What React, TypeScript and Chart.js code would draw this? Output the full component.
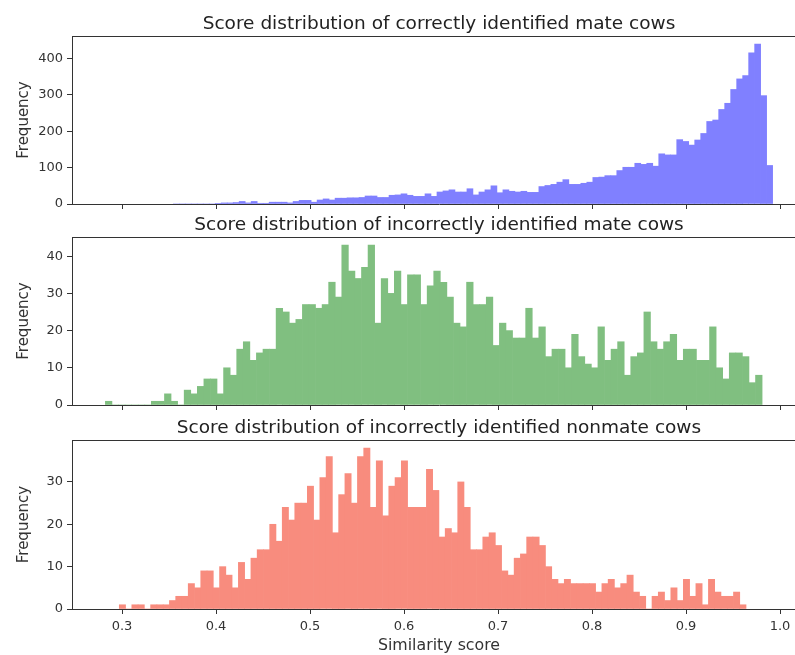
import React, { useEffect, useRef } from "react";
import { Chart, registerables } from "chart.js";

Chart.register(...registerables);

const FONT = "'DejaVu Sans', sans-serif";

// shared x axis
const xTicks = [0.3, 0.4, 0.5, 0.6, 0.7, 0.8, 0.9, 1.0];
const xMin = 0.2468;
const xMax = 1.0276;
const xLabel = "Similarity score";
const yLabel = "Frequency";

// panel 1: correctly identified mate cows (100 bins)
const correctMateTitle = "Score distribution of correctly identified mate cows";
const correctMateRange = [0.3545, 0.9921];
const correctMateCounts = [
  0, 0, 0, 0, 0, 0, 0, 1, 3, 3,
  4, 7, 3, 7, 2, 2, 5, 5, 5, 3,
  7, 10, 10, 5, 11, 14, 11, 16, 16, 17,
  17, 18, 22, 22, 18, 18, 24, 25, 28, 24,
  21, 21, 28, 21, 33, 36, 39, 33, 33, 42,
  25, 33, 39, 50, 31, 39, 35, 33, 35, 32,
  32, 48, 51, 54, 60, 67, 54, 54, 57, 60,
  73, 74, 78, 78, 92, 101, 101, 112, 109, 112,
  104, 138, 135, 135, 177, 172, 162, 176, 194, 227,
  231, 260, 277, 315, 344, 353, 416, 440, 298, 106,
];
const correctMateYTicks = [0, 100, 200, 300, 400];

// panel 2: incorrectly identified mate cows (100 bins)
const incorrectMateTitle = "Score distribution of incorrectly identified mate cows";
const incorrectMateRange = [0.2823, 0.9809];
const incorrectMateCounts = [
  1, 0, 0, 0, 0, 0, 0, 1, 1, 3,
  1, 0, 4, 3, 5, 7, 7, 3, 10, 8,
  15, 17, 12, 14, 15, 15, 26, 25, 22, 23,
  27, 27, 26, 27, 33, 29, 43, 36, 34, 37,
  43, 22, 34, 30, 36, 27, 35, 35, 27, 32,
  36, 33, 29, 22, 21, 33, 27, 27, 29, 16,
  22, 20, 18, 18, 26, 18, 21, 13, 15, 15,
  10, 19, 13, 11, 10, 21, 12, 15, 17, 8,
  13, 14, 25, 17, 15, 17, 19, 12, 15, 15,
  12, 12, 21, 10, 7, 14, 14, 13, 6, 8,
];
const incorrectMateYTicks = [0, 10, 20, 30, 40];

// panel 3: incorrectly identified nonmate cows (100 bins)
const incorrectNonmateTitle = "Score distribution of incorrectly identified nonmate cows";
const incorrectNonmateRange = [0.2971, 0.9638];
const incorrectNonmateCounts = [
  1, 0, 1, 1, 0, 1, 1, 1, 2, 3,
  3, 6, 5, 9, 9, 5, 10, 8, 5, 11,
  7, 12, 14, 14, 20, 16, 24, 21, 25, 25,
  29, 21, 31, 36, 18, 27, 32, 25, 36, 38,
  24, 35, 22, 29, 31, 35, 24, 24, 24, 33,
  28, 17, 19, 18, 30, 24, 14, 14, 17, 18,
  15, 9, 8, 12, 13, 17, 17, 15, 10, 7,
  6, 7, 6, 6, 6, 6, 4, 6, 7, 5,
  6, 8, 4, 3, 0, 3, 4, 2, 5, 2,
  7, 3, 6, 1, 7, 4, 3, 3, 4, 1,
];
const incorrectNonmateYTicks = [0, 10, 20, 30];

const topSpine = {
  id: "topSpine",
  afterDraw(chart: any) {
    const { ctx, chartArea } = chart;
    ctx.save();
    ctx.strokeStyle = "#333";
    ctx.lineWidth = 1;
    ctx.beginPath();
    ctx.moveTo(chartArea.left, Math.round(chartArea.top) + 0.5);
    ctx.lineTo(chartArea.right, Math.round(chartArea.top) + 0.5);
    ctx.stroke();
    ctx.restore();
  },
};

type PanelProps = {
  top: number;
  height: number;
  xAxisHeight: number;
  title: string;
  range: number[];
  counts: number[];
  yTicks: number[];
  color: string;
  showXLabels: boolean;
};

function Panel(p: PanelProps) {
  const ref = useRef<HTMLCanvasElement>(null);
  useEffect(() => {
    const n = p.counts.length;
    const w = (p.range[1] - p.range[0]) / n;
    const data = p.counts.map((c, i) => ({ x: p.range[0] + (i + 0.5) * w, y: c }));
    const chart = new Chart(ref.current as HTMLCanvasElement, {
      type: "bar",
      data: {
        datasets: [
          {
            data: data as any,
            backgroundColor: p.color,
            borderWidth: 0,
            barPercentage: 1,
            categoryPercentage: 1,
          },
        ],
      },
      options: {
        responsive: false,
        animation: false,
        events: [],
        layout: { padding: { left: 0, top: 0, bottom: 0, right: 24 } },
        plugins: {
          legend: { display: false },
          tooltip: { enabled: false },
          title: {
            display: true,
            text: p.title,
            fullSize: false,
            color: "#222",
            font: { family: FONT, size: 18.5, weight: "normal", lineHeight: 1.2 },
            padding: { top: 12.7, bottom: 1.1 },
          },
        },
        scales: {
          x: {
            type: "linear",
            min: xMin,
            max: xMax,
            offset: false,
            afterBuildTicks: (s: any) => {
              s.ticks = xTicks.map((v) => ({ value: v }));
            },
            afterFit: (s: any) => {
              s.height = p.xAxisHeight;
              s.paddingLeft = 0;
              s.paddingRight = 0;
            },
            grid: {
              display: true,
              drawOnChartArea: false,
              drawTicks: true,
              tickLength: 5,
              tickColor: "#333",
              offset: false,
            },
            border: { display: true, color: "#333", width: 1, z: 1 },
            ticks: {
              display: p.showXLabels,
              padding: 4.5,
              color: "#333",
              font: { family: FONT, size: 13 },
              maxRotation: 0,
              autoSkip: false,
              callback: (v: any) => Number(v).toFixed(1),
            },
            title: {
              display: p.showXLabels,
              text: xLabel,
              color: "#333",
              font: { family: FONT, size: 15.8 },
              padding: { top: 0, bottom: 0 },
            },
          },
          y: {
            type: "linear",
            min: 0,
            max: Math.max(...p.counts) * 1.05,
            afterBuildTicks: (s: any) => {
              s.ticks = p.yTicks.map((v) => ({ value: v }));
            },
            afterFit: (s: any) => {
              s.width = 72;
              s.paddingTop = 0;
              s.paddingBottom = 0;
            },
            grid: {
              display: true,
              drawOnChartArea: false,
              drawTicks: true,
              tickLength: 5,
              tickColor: "#333",
            },
            border: { display: true, color: "#333", width: 1, z: 1 },
            ticks: {
              padding: 4,
              color: "#333",
              font: { family: FONT, size: 13 },
              callback: (v: any) => String(v),
            },
            title: {
              display: true,
              text: yLabel,
              color: "#333",
              font: { family: FONT, size: 15 },
              padding: { top: 15.5, bottom: 0 },
            },
          },
        },
      } as any,
      plugins: [topSpine],
    });
    return () => chart.destroy();
  }, []);
  return (
    <canvas
      ref={ref}
      width={830}
      height={p.height}
      style={{ position: "absolute", left: 0, top: p.top, width: 830, height: p.height }}
    />
  );
}

export default function App() {
  return (
    <div
      style={{
        position: "absolute",
        left: 0,
        top: 0,
        width: 795,
        height: 655,
        overflow: "hidden",
        background: "#fff",
      }}
    >
      <Panel
        top={0}
        height={214}
        xAxisHeight={10}
        title={correctMateTitle}
        range={correctMateRange}
        counts={correctMateCounts}
        yTicks={correctMateYTicks}
        color="rgb(128,128,255)"
        showXLabels={false}
      />
      <Panel
        top={201}
        height={214}
        xAxisHeight={10}
        title={incorrectMateTitle}
        range={incorrectMateRange}
        counts={incorrectMateCounts}
        yTicks={incorrectMateYTicks}
        color="rgb(128,191,128)"
        showXLabels={false}
      />
      <Panel
        top={404}
        height={251}
        xAxisHeight={46}
        title={incorrectNonmateTitle}
        range={incorrectNonmateRange}
        counts={incorrectNonmateCounts}
        yTicks={incorrectNonmateYTicks}
        color="rgb(248,140,126)"
        showXLabels={true}
      />
    </div>
  );
}
